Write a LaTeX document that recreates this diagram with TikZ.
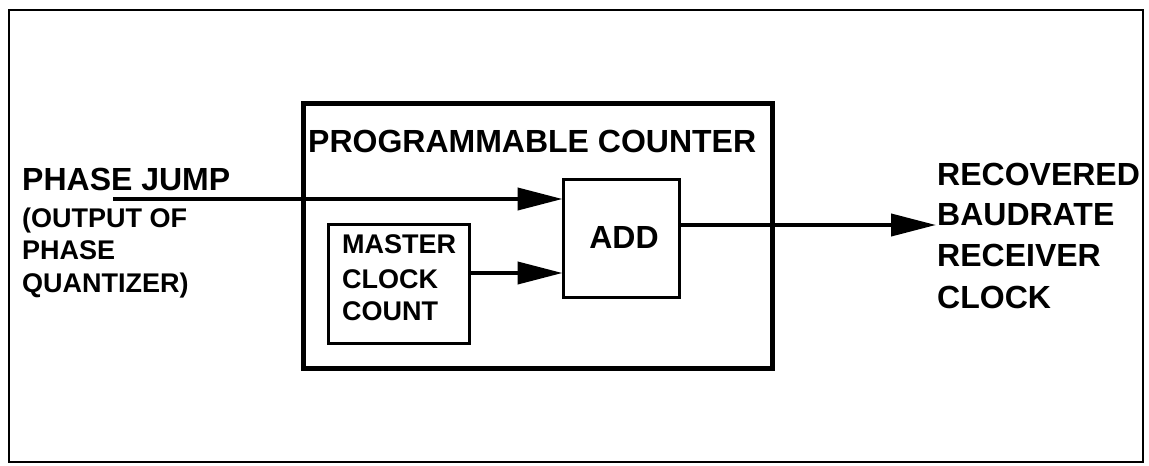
\documentclass[tikz,border=0pt]{standalone}
\usepackage{fontspec}
\setmainfont{Liberation Sans}
\usetikzlibrary{arrows.meta}
\tikzset{
  big/.style={font=\fontsize{32}{38}\selectfont\bfseries, inner sep=0pt, anchor=base west},
  small/.style={font=\fontsize{27}{32}\selectfont\bfseries, inner sep=0pt, anchor=base west},
  box/.style={draw, inner sep=0pt},
  conn/.style={line width=4pt, -{Triangle[length=45pt,width=22pt]}, shorten >=-1pt},
}
\begin{document}
\begin{tikzpicture}[x=1pt,y=-1pt]
\useasboundingbox (0,0) rectangle (1149,466);
\draw[line width=2.5pt] (9,10) rectangle (1143,462);
% programmable counter
\node[box, line width=5pt, minimum width=469pt, minimum height=265pt] (pc) at (537.5,235.5) {};
\node[big] (pctitle) at (308,152) {PROGRAMMABLE COUNTER};
% add box
\node[box, line width=3pt, minimum width=116pt, minimum height=118pt] (add) at (621,238) {};
\node[font=\fontsize{32}{38}\selectfont\bfseries, inner sep=0pt, anchor=base] (addlbl) at (624,248) {ADD};
% master clock count
\node[box, line width=3pt, minimum width=141pt, minimum height=119pt] (master) at (398.5,283.5) {};
\node[small] (m1) at (342,253) {MASTER};
\node[small] (m2) at (342,288) {CLOCK};
\node[small] (m3) at (342,320) {COUNT};
% left labels
\node[big] (pj) at (22,190) {PHASE JUMP};
\node[small] (l1) at (22,227) {(OUTPUT OF};
\node[small] (l2) at (22,259) {PHASE};
\node[small] (l3) at (22,292) {QUANTIZER)};
% right labels
\node[big] (r1) at (937,185) {RECOVERED};
\node[big] (r2) at (937,225) {BAUDRATE};
\node[big] (r3) at (937,266) {RECEIVER};
\node[big] (r4) at (937,308) {CLOCK};
% connectors
\coordinate (pjstart) at (113,199);
\coordinate (mstart) at (469,273);
\coordinate (ostart) at (679,225);
\coordinate (out) at (935,225);
\draw[conn] (pjstart) -- (pjstart -| add.west);
\draw[conn] (master.east |- mstart) -- (mstart -| add.west);
\draw[conn] (add.east |- ostart) -- (out);
\end{tikzpicture}
\end{document}
